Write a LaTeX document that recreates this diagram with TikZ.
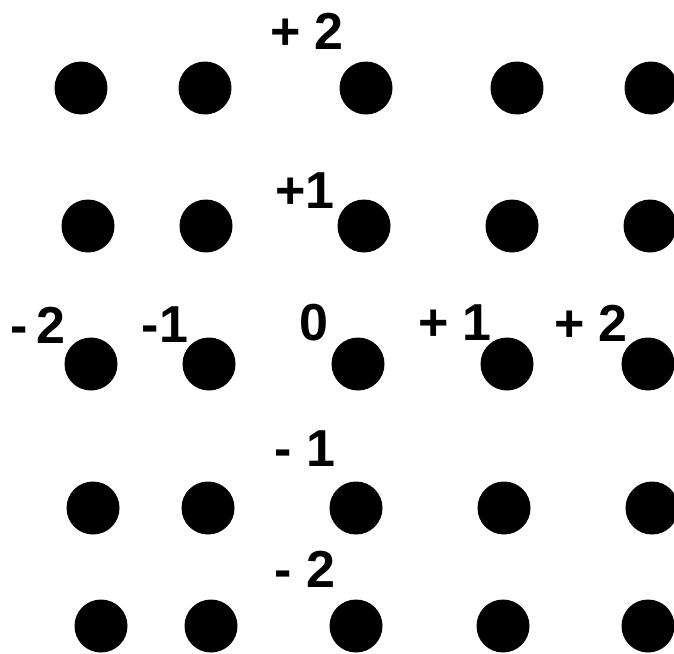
\documentclass[tikz,border=0pt]{standalone}
\usepackage{fontspec}
\setmainfont{Liberation Sans}
\begin{document}
\begin{tikzpicture}[x=0.5pt,y=-0.5pt,
    dot/.style={circle,fill=black,minimum size=26.5pt,inner sep=0pt},
    lbl/.style={font=\bfseries\fontsize{26}{30}\selectfont,inner sep=0pt}]
    \useasboundingbox (0,0) rectangle (674,653);
    % Lattice of dots, one row at a time
    \foreach \r/\y/\xs in {1/88/{81,205,366,517,651},
                           2/226/{88,206,364,512,650},
                           3/364/{91,209,358,507,648},
                           4/508/{93,208,356,504,652},
                           5/626/{101,211,356,503,648}} {
        \foreach \x [count=\c] in \xs {
            \node[dot] (d\r\c) at (\x,\y) {};
        }
    }
    % Vertical labels
    \node[lbl] (vp2) at (307,31) {+ 2};
    \node[lbl] (vp1) at (305,191) {+1};
    \node[lbl] (vm1) at (305,449) {- 1};
    \node[lbl] (vm2) at (305,569) {- 2};
    % Horizontal labels
    \node[lbl] (hm2) at (38,325) {-\,2};
    \node[lbl] (hm1) at (165,325) {-1};
    \node[lbl] (h0) at (314,323) {0};
    \node[lbl] (hp1) at (455,323) {+ 1};
    \node[lbl] (hp2) at (591,323) {+ 2};
\end{tikzpicture}
\end{document}
